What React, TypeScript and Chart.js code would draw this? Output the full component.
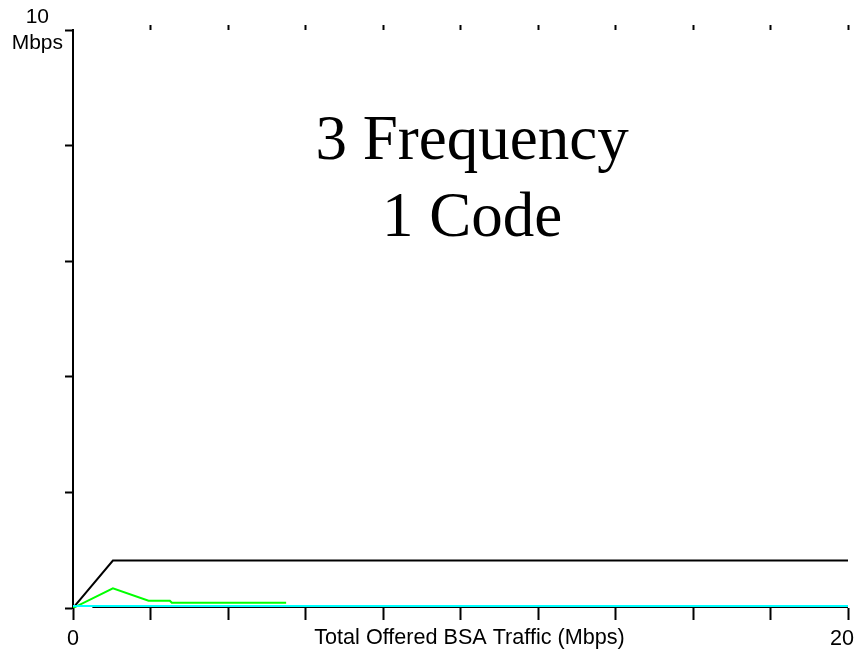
import React, { useEffect, useRef } from "react";
import { Chart, registerables } from "chart.js";

Chart.register(...registerables);

// ---- Axis ranges & labels ----
const X_MIN = 0;
const X_MAX = 20;
const X_STEP = 2;
const Y_MIN = 0;
const Y_MAX = 10;
const Y_STEP = 2;
const xTickLabels: Record<number, string> = { 0: "0", 20: "20  " };
const yTopLabel = ["10", "Mbps"];
const xAxisTitle = "   Total Offered BSA Traffic (Mbps)";
const titleLines = ["3 Frequency", "1 Code"];

// ---- Series (Mbps vs offered Mbps) ----
const baseX = [0.5, 20];
const baseY = [0, 0];
const cyanX = [0, 20];
const cyanY = [0.035, 0.035];
const greenX = [0, 1.03, 1.95, 2.5, 2.55, 5.5];
const greenY = [0, 0.34, 0.125, 0.125, 0.09, 0.09];
const blackX = [0, 1.03, 20];
const blackY = [0, 0.82, 0.82];

const toPts = (xs: number[], ys: number[]) => xs.map((x, i) => ({ x, y: ys[i] }));

const SANS = '"Liberation Sans", Arial, sans-serif';
const SERIF = '"Liberation Serif", "Times New Roman", serif';
const LABEL_SIZE = 21.6;

const centerTitle = {
  id: "centerTitle",
  afterDraw(chart: any) {
    const { ctx, scales } = chart;
    ctx.save();
    ctx.font = `63px ${SERIF}`;
    ctx.fillStyle = "#000";
    ctx.textAlign = "center";
    ctx.textBaseline = "alphabetic";
    const x = scales.x.getPixelForValue(10.3);
    ctx.fillText(titleLines[0], x, scales.y.getPixelForValue(7.76));
    ctx.fillText(titleLines[1], x, scales.y.getPixelForValue(6.43));
    ctx.restore();
  },
};

export default function App() {
  const ref = useRef<HTMLCanvasElement | null>(null);

  useEffect(() => {
    if (!ref.current) return;
    const line = (label: string, data: any, color: string) => ({
      label,
      data,
      borderColor: color,
      backgroundColor: color,
      borderWidth: 2,
      pointRadius: 0,
      tension: 0,
      fill: false,
    });
    const chart = new Chart(ref.current, {
      type: "line",
      data: {
        datasets: [
          line("Baseline", toPts(baseX, baseY), "#000000"),
          line("Cyan", toPts(cyanX, cyanY), "#00ffff"),
          line("Green", toPts(greenX, greenY), "#00ff00"),
          line("Black", toPts(blackX, blackY), "#000000"),
        ],
      },
      options: {
        animation: false,
        responsive: false,
        devicePixelRatio: 1,
        layout: { padding: { left: 0, right: 6, top: 0, bottom: 0 } },
        plugins: { legend: { display: false }, tooltip: { enabled: false }, title: { display: false } },
        scales: {
          x: {
            type: "linear",
            position: "bottom",
            min: X_MIN,
            max: X_MAX,
            ticks: {
              stepSize: X_STEP,
              autoSkip: false,
              maxRotation: 0,
              padding: 6,
              color: "#000",
              font: { family: SANS, size: LABEL_SIZE },
              callback: (v: any) => xTickLabels[v as number] ?? "",
            },
            grid: { drawOnChartArea: false, drawTicks: true, tickLength: 12, tickWidth: 2, color: "#000" },
            border: { display: false },
            title: {
              display: true,
              text: xAxisTitle,
              color: "#000",
              font: { family: SANS, size: LABEL_SIZE },
              padding: { top: 0, bottom: 2 },
            },
            afterFit: (s: any) => {
              s.height = 45;
              s.paddingLeft = 0;
              s.paddingRight = 0;
            },
          },
          xTop: {
            type: "linear",
            position: "top",
            min: X_MIN,
            max: X_MAX,
            ticks: { stepSize: X_STEP, display: false },
            grid: {
              drawOnChartArea: false,
              tickLength: 5,
              tickWidth: 2,
              color: (c: any) => (c.tick && c.tick.value === 0 ? "rgba(0,0,0,0)" : "#000"),
            },
            border: { display: false },
            afterFit: (s: any) => {
              s.height = 30;
              s.paddingLeft = 0;
              s.paddingRight = 0;
            },
          },
          y: {
            type: "linear",
            position: "left",
            min: Y_MIN,
            max: Y_MAX,
            ticks: {
              stepSize: Y_STEP,
              padding: 2,
              crossAlign: "center",
              color: "#000",
              font: { family: SANS, size: 21, lineHeight: 1.25 },
              callback: (v: any) => (v === Y_MAX ? yTopLabel : ""),
            },
            grid: { drawOnChartArea: false, tickLength: 8, tickWidth: 2, color: "#000" },
            border: { display: true, color: "#000", width: 2 },
            afterFit: (s: any) => {
              s.width = 73;
              s.paddingTop = 0;
              s.paddingBottom = 0;
            },
          },
        },
      } as any,
      plugins: [centerTitle],
    });
    return () => chart.destroy();
  }, []);

  return (
    <div style={{ position: "absolute", left: 0, top: 0, width: 854, height: 653, background: "#fff" }}>
      <canvas ref={ref} width={854} height={653} style={{ display: "block", width: 854, height: 653 }} />
    </div>
  );
}
